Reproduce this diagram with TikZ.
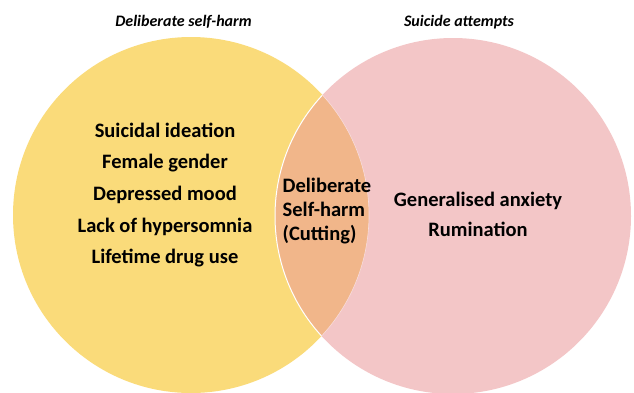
\documentclass[tikz,border=0pt]{standalone}
\usepackage{fontspec}
\setmainfont{Carlito}
\definecolor{dshyellow}{HTML}{FADB7A}
\definecolor{sapink}{HTML}{F3C6C7}
\definecolor{lensorange}{HTML}{F1B68A}
\begin{document}
\begin{tikzpicture}[x=1pt,y=-1pt,
  setcircle/.style={circle,inner sep=0pt,outer sep=0pt,minimum size=356pt,draw=none},
  itemtext/.style={anchor=base,font=\fontsize{20.5}{24}\selectfont\bfseries,inner sep=0pt},
  lenstext/.style={anchor=base west,font=\fontsize{20.5}{24}\selectfont\bfseries,inner sep=0pt},
  titletext/.style={anchor=base,font=\fontsize{16}{19}\selectfont\bfseries\itshape,inner sep=0pt}]
\useasboundingbox (0,0) rectangle (634,392);
% circles
\node[setcircle,fill=dshyellow] (dsh) at (191,215) {};
\node[setcircle,fill=sapink] (sa) at (453,216) {};
\begin{scope}
  \clip (191,215) circle (178);
  \fill[lensorange] (453,216) circle (178);
  \draw[white,line width=1pt] (453,216) circle (178);
\end{scope}
\begin{scope}
  \clip (453,216) circle (178);
  \draw[sapink!60!white,line width=0.6pt] (191,215) circle (178);
\end{scope}
% titles
\node[titletext] (t1) at (183.5,26.5) {Deliberate self-harm};
\node[titletext] (t2) at (459,26.5) {Suicide attempts};
% left items
\node[itemtext] (l1) at (165,137) {Suicidal ideation};
\node[itemtext] (l2) at (165,168.5) {Female gender};
\node[itemtext] (l3) at (165,200) {Depressed mood};
\node[itemtext] (l4) at (165,232) {Lack of hypersomnia};
\node[itemtext] (l5) at (165,263.5) {Lifetime drug use};
% lens items
\node[lenstext] (m1) at (282.5,192.5) {Deliberate};
\node[lenstext] (m2) at (282.5,216.5) {Self-harm};
\node[lenstext] (m3) at (282.5,240.5) {(Cutting)};
% right items
\node[itemtext] (r1) at (478,206.5) {Generalised anxiety};
\node[itemtext] (r2) at (478,236.5) {Rumination};
\end{tikzpicture}
\end{document}
